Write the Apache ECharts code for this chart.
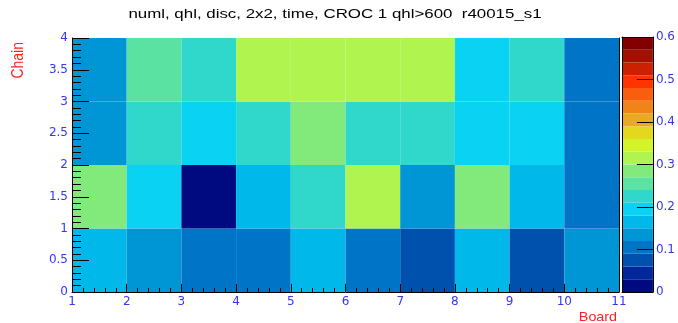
<!DOCTYPE html>
<html>
<head>
<meta charset="utf-8">
<script src="https://cdn.jsdelivr.net/npm/echarts@6/dist/echarts.min.js"></script>
<style>html,body{margin:0;padding:0;background:#fff;}#c{width:678px;height:323px;}</style>
</head>
<body>
<div id="c"></div>
<script>
// ---- data ----
const boards = [1, 2, 3, 4, 5, 6, 7, 8, 9, 10];
const chains = [0, 1, 2, 3];
const chain0 = [0.165, 0.135, 0.105, 0.105, 0.165, 0.105, 0.075, 0.165, 0.075, 0.135];
const chain1 = [0.285, 0.195, 0.010, 0.165, 0.225, 0.315, 0.135, 0.285, 0.165, 0.105];
const chain2 = [0.135, 0.225, 0.195, 0.225, 0.285, 0.225, 0.225, 0.195, 0.195, 0.105];
const chain3 = [0.135, 0.255, 0.225, 0.315, 0.315, 0.315, 0.315, 0.195, 0.225, 0.105];
const zLevels = [0, 0.03, 0.06, 0.09, 0.12, 0.15, 0.18, 0.21, 0.24, 0.27, 0.30,
                 0.33, 0.36, 0.39, 0.42, 0.45, 0.48, 0.51, 0.54, 0.57, 0.60];
const palette = ['#000a80', '#00289a', '#0050ae', '#0074c6', '#0096d6', '#00b8ea',
                 '#0ad2f2', '#30d8cc', '#5ae2a2', '#82ea7a', '#b0f450', '#d4f42a',
                 '#e2d81e', '#e8aa20', '#f08418', '#f85e0e', '#ff3400', '#cc2000',
                 '#a21000', '#820000'];
const titleText = 'numl, qhl, disc, 2x2, time, CROC 1 qhl>600  r40015_s1';
const xTitle = 'Board';
const yTitle = 'Chain';

// ---- build ----
const rows = [chain0, chain1, chain2, chain3];
const cells = [];
chains.forEach((c, j) => boards.forEach((b, i) => cells.push([b, c, rows[j][i]])));
const barData = [];
for (let k = 0; k < palette.length; k++) {
  barData.push([0, zLevels[k], (zLevels[k] + zLevels[k + 1]) / 2, zLevels[k + 1]]);
}
function colorOf(v) {
  for (let k = 0; k < palette.length; k++) {
    if (v >= zLevels[k] && v < zLevels[k + 1]) return palette[k];
  }
  return palette[palette.length - 1];
}

const blue = '#3535f5';
const lblFont = {color: blue, fontSize: 12, fontFamily: 'DejaVu Sans'};
const line = {show: true, onZero: false, lineStyle: {color: '#000', width: 1}};
const tickStyle = {color: '#000', width: 1};

function ax(extra) { return Object.assign({type: 'value', splitLine: {show: false}}, extra); }

function rectItem(api, x0, y0, x1, y1, v) {
  const p0 = api.coord([x0, y0]);
  const p1 = api.coord([x1, y1]);
  return {
    type: 'rect', z2: -10,
    shape: {x: p0[0], y: p1[1], width: p1[0] - p0[0], height: p0[1] - p1[1]},
    style: {fill: colorOf(v)}
  };
}

const chart = echarts.init(document.getElementById('c'), null, {renderer: 'canvas'});
chart.setOption({
  animation: false,
  grid: [
    {left: 72, top: 38, right: 59, bottom: 31},
    {left: 622, width: 33, top: 37, bottom: 31}
  ],
  xAxis: [
    ax({gridIndex: 0, min: 1, max: 11, interval: 1, axisLine: line,
        axisTick: {show: true, inside: true, length: 8, lineStyle: tickStyle},
        minorTick: {show: true, splitNumber: 5, length: 4, lineStyle: tickStyle},
        axisLabel: Object.assign({margin: 4}, lblFont)}),
    ax({gridIndex: 1, min: 0, max: 1, axisLine: line, axisTick: {show: false}, axisLabel: {show: false}}),
    ax({gridIndex: 1, min: 0, max: 1, position: 'top', axisLine: line, axisTick: {show: false}, axisLabel: {show: false}})
  ],
  yAxis: [
    ax({gridIndex: 0, min: 0, max: 4, interval: 0.5, axisLine: line,
        axisTick: {show: true, inside: true, length: 17, lineStyle: tickStyle},
        minorTick: {show: true, splitNumber: 5, length: 9, lineStyle: tickStyle},
        axisLabel: Object.assign({margin: 4}, lblFont)}),
    ax({gridIndex: 0, min: 0, max: 4, position: 'right', axisLine: line, axisTick: {show: false}, axisLabel: {show: false}}),
    ax({gridIndex: 1, min: 0, max: 0.6, interval: 0.1, position: 'right', axisLine: line,
        axisTick: {show: true, inside: true, length: 16, lineStyle: tickStyle},
        axisLabel: Object.assign({margin: 3}, lblFont)}),
    ax({gridIndex: 1, min: 0, max: 0.6, position: 'left', axisLine: line, axisTick: {show: false}, axisLabel: {show: false}})
  ],
  series: [
    {
      type: 'custom', xAxisIndex: 0, yAxisIndex: 0, zlevel: -1, z: -1, data: cells,
      encode: {x: 0, y: 1},
      renderItem: function (params, api) {
        const x = api.value(0), y = api.value(1);
        return rectItem(api, x, y, x + 1, y + 1, api.value(2));
      }
    },
    {
      type: 'custom', xAxisIndex: 1, yAxisIndex: 2, zlevel: -1, z: -1, data: barData,
      encode: {x: 0, y: 1},
      renderItem: function (params, api) {
        return rectItem(api, 0, api.value(1), 1, api.value(3), api.value(2));
      }
    }
  ],
  graphic: [
    {
      type: 'text', x: 335, y: 14, scaleX: 1.25,
      style: {text: titleText, fill: '#000', fontSize: 13.5, fontFamily: 'Liberation Sans',
              align: 'center', verticalAlign: 'middle'}
    },
    {
      type: 'text', x: 18, y: 42, rotation: Math.PI / 2, scaleY: 1.2,
      style: {text: yTitle, fill: '#ff2020', fontSize: 14, fontFamily: 'Liberation Sans',
              align: 'right', verticalAlign: 'middle'}
    },
    {
      type: 'text', x: 617, y: 317, scaleX: 1.1,
      style: {text: xTitle, fill: '#ff2020', fontSize: 13, fontFamily: 'Liberation Sans',
              align: 'right', verticalAlign: 'middle'}
    }
  ]
});
</script>
</body>
</html>
